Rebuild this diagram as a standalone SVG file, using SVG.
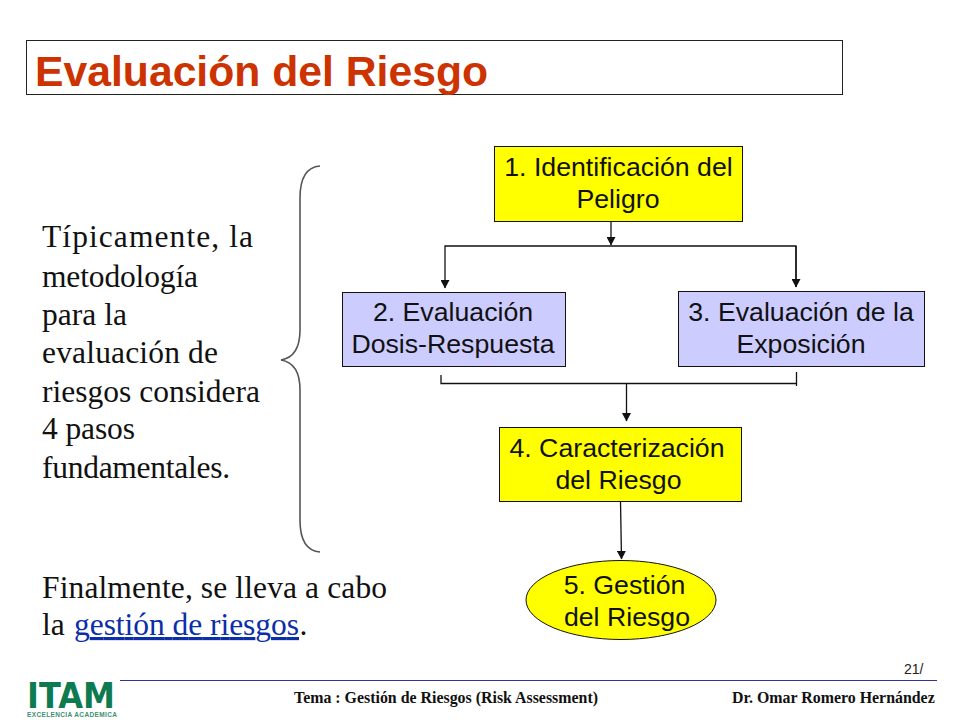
<svg xmlns="http://www.w3.org/2000/svg" width="960" height="720" viewBox="0 0 960 720">
<style>
.s{font-family:"Liberation Sans",Arial,sans-serif;font-size:26.700px;fill:#111;text-anchor:middle}
.t{font-family:"Liberation Serif","Times New Roman",serif;font-size:31.500px;fill:#111}
.f{font-family:"Liberation Serif","Times New Roman",serif;font-size:15.900px;font-weight:bold;fill:#111}
.y{fill:#ffff00;stroke:#111;stroke-width:1}
.b{fill:#ccccff;stroke:#111;stroke-width:1}
.c{fill:none;stroke:#111;stroke-width:1.300}
</style>
<defs><marker id="a" markerUnits="userSpaceOnUse" markerWidth="9" markerHeight="9" refX="8" refY="4.500" orient="auto"><path d="M0 0L8.500 4.500L0 9Z" fill="#111"/></marker></defs>
<rect width="960" height="720" fill="#fff"/>
<g id="title"><rect x="26.500" y="40.500" width="816" height="54" fill="#fff" stroke="#222" stroke-width="1"/>
<text x="35" y="86" font-family="Liberation Sans,Arial,sans-serif" font-size="42.700" font-weight="bold" fill="#cc3300">Evaluación del Riesgo</text></g>
<g id="texto">
<text class="t" x="42" y="247" textLength="211">Típicamente, la</text>
<text class="t" x="42" y="287" textLength="156">metodología</text>
<text class="t" x="42" y="325" textLength="85">para la</text>
<text class="t" x="42" y="363" textLength="176">evaluación de</text>
<text class="t" x="42" y="402" textLength="218">riesgos considera</text>
<text class="t" x="42" y="439" textLength="93">4 pasos</text>
<text class="t" x="42" y="478" textLength="188">fundamentales.</text>
<text class="t" x="42" y="598" textLength="345">Finalmente, se lleva a cabo</text>
<text class="t" x="42" y="635">la</text>
<text class="t" x="74" y="635" textLength="225" style="fill:#0b2fa8" text-decoration="underline">gestión de riesgos</text>
<text class="t" x="299.500" y="635">.</text></g>
<g id="llave"><path d="M320 166C307 167 300 178 300 198V330C300 348 293 358 281 360C293 362 300 372 300 390V520C300 540 307 551 320 552" fill="none" stroke="#555" stroke-width="1.600"/></g>
<g id="conectores">
<path class="c" d="M611 221V245" marker-end="url(#a)"/>
<path class="c" d="M796 287V246H445V288" marker-end="url(#a)"/>
<path class="c" d="M796 246V287" marker-end="url(#a)"/>
<path class="c" d="M441 375V383.500H796.500M796.500 372V386"/>
<path class="c" d="M626.500 384V421" marker-end="url(#a)"/>
<path class="c" d="M620.500 501L621.500 559" marker-end="url(#a)"/>
</g>
<g id="n1"><rect class="y" x="494.500" y="146.500" width="248" height="75"/><text class="s" x="618.500" y="176">1. Identificación del</text><text class="s" x="618" y="208">Peligro</text></g>
<g id="n2"><rect class="b" x="342.500" y="292.500" width="223" height="74"/><text class="s" x="453" y="321">2. Evaluación</text><text class="s" x="453" y="353">Dosis-Respuesta</text></g>
<g id="n3"><rect class="b" x="678.500" y="291.500" width="246" height="75"/><text class="s" x="801" y="321">3. Evaluación de la</text><text class="s" x="801" y="353">Exposición</text></g>
<g id="n4"><rect class="y" x="499.500" y="427.500" width="242" height="74"/><text class="s" x="617" y="457">4. Caracterización</text><text class="s" x="618.500" y="489">del Riesgo</text></g>
<g id="n5"><ellipse class="y" cx="621" cy="600" rx="95" ry="39.500"/><text class="s" x="624.500" y="594">5. Gestión</text><text class="s" x="627" y="626">del Riesgo</text></g>
<g id="pie">
<path d="M120 680.500H937" stroke="#33339a" stroke-width="1"/>
<text x="904" y="674" font-family="Liberation Sans,Arial,sans-serif" font-size="14" fill="#222">21/</text>
<text class="f" x="294" y="703">Tema : Gestión de Riesgos (Risk Assessment)</text>
<text class="f" x="732" y="703">Dr. Omar Romero Hernández</text>
<text x="27" y="708" font-family="DejaVu Sans,sans-serif" font-size="36" font-weight="bold" fill="#0d7a50" textLength="88" lengthAdjust="spacingAndGlyphs">ITAM</text>
<text x="27" y="717" font-family="Liberation Sans,Arial,sans-serif" font-size="6.500" font-weight="bold" fill="#3d8f6e" textLength="90" lengthAdjust="spacing">EXCELENCIA ACADEMICA</text>
</g>
</svg>
